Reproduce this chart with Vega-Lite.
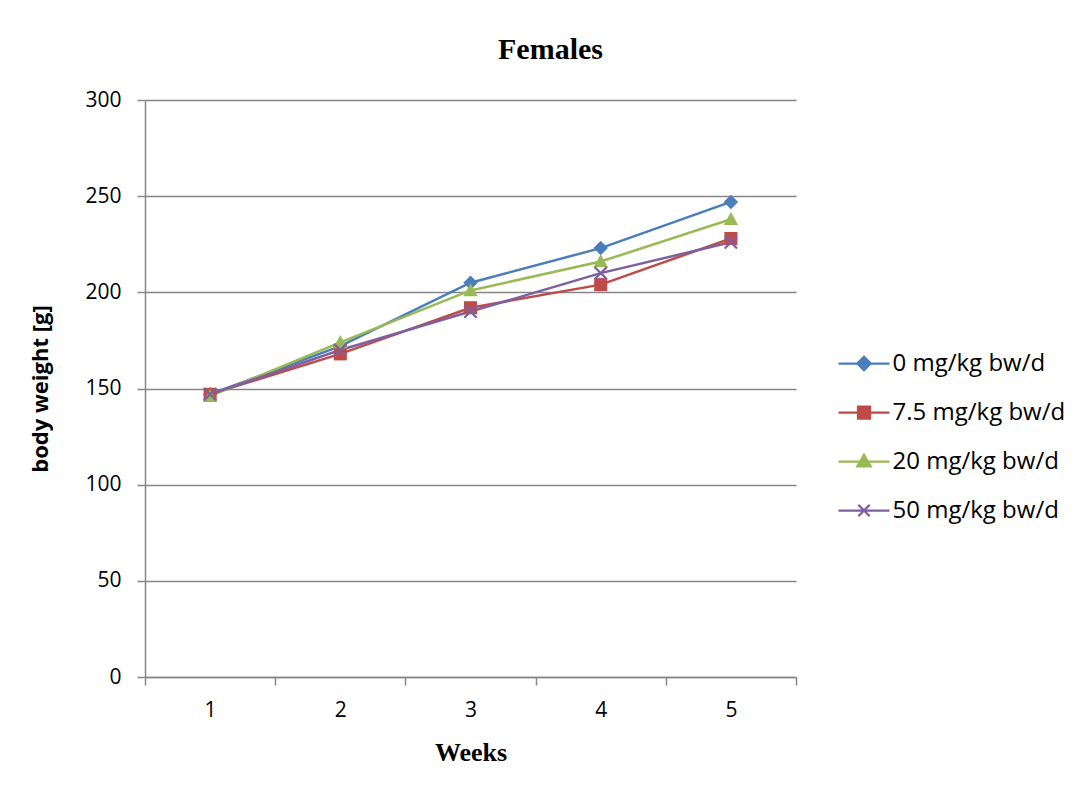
{
  "$schema": "https://vega.github.io/schema/vega-lite/v6.json",
  "width": 651,
  "height": 577,
  "autosize": "none",
  "padding": {"left": 145, "top": 100, "right": 292, "bottom": 118},
  "background": "white",
  "title": {
    "text": "Females",
    "font": "Liberation Serif",
    "fontSize": 30,
    "fontWeight": "bold",
    "color": "black",
    "anchor": "middle",
    "dx": 80,
    "offset": 0,
    "baseline": "alphabetic"
  },
  "data": {
    "values": [
      {"week": "1", "dose": "0 mg/kg bw/d", "weight": 147},
      {"week": "2", "dose": "0 mg/kg bw/d", "weight": 172},
      {"week": "3", "dose": "0 mg/kg bw/d", "weight": 205},
      {"week": "4", "dose": "0 mg/kg bw/d", "weight": 223},
      {"week": "5", "dose": "0 mg/kg bw/d", "weight": 247},
      {"week": "1", "dose": "7.5 mg/kg bw/d", "weight": 147},
      {"week": "2", "dose": "7.5 mg/kg bw/d", "weight": 168},
      {"week": "3", "dose": "7.5 mg/kg bw/d", "weight": 192},
      {"week": "4", "dose": "7.5 mg/kg bw/d", "weight": 204},
      {"week": "5", "dose": "7.5 mg/kg bw/d", "weight": 228},
      {"week": "1", "dose": "20 mg/kg bw/d", "weight": 146},
      {"week": "2", "dose": "20 mg/kg bw/d", "weight": 174},
      {"week": "3", "dose": "20 mg/kg bw/d", "weight": 201},
      {"week": "4", "dose": "20 mg/kg bw/d", "weight": 216},
      {"week": "5", "dose": "20 mg/kg bw/d", "weight": 238},
      {"week": "1", "dose": "50 mg/kg bw/d", "weight": 147},
      {"week": "2", "dose": "50 mg/kg bw/d", "weight": 170},
      {"week": "3", "dose": "50 mg/kg bw/d", "weight": 190},
      {"week": "4", "dose": "50 mg/kg bw/d", "weight": 210},
      {"week": "5", "dose": "50 mg/kg bw/d", "weight": 226}
    ]
  },
  "encoding": {
    "x": {
      "field": "week",
      "type": "ordinal",
      "scale": {"type": "band", "paddingInner": 0, "paddingOuter": 0},
      "axis": {
        "title": "Weeks",
        "titleFont": "Liberation Serif",
        "titleFontSize": 26,
        "titleFontWeight": "bold",
        "titleColor": "black",
        "titleX": 325.5,
        "titleY": 75,
        "titleBaseline": "middle",
        "titleAlign": "center",
        "labelAngle": 0,
        "labelFont": "Open Sans",
        "labelFontSize": 21,
        "labelColor": "black",
        "labelPadding": 14,
        "tickBand": "extent",
        "tickSize": 8,
        "tickColor": "#868686",
        "tickWidth": 1.5,
        "domainColor": "#868686",
        "domainWidth": 1.5,
        "grid": false
      }
    },
    "y": {
      "field": "weight",
      "type": "quantitative",
      "scale": {"domain": [0, 300], "nice": false},
      "axis": {
        "title": "body weight [g]",
        "titleFont": "Open Sans",
        "titleFontSize": 22,
        "titleFontWeight": "bold",
        "titleColor": "black",
        "titleAngle": 270,
        "titleX": -105,
        "titleY": 288.5,
        "titleAlign": "center",
        "titleBaseline": "middle",
        "values": [0, 50, 100, 150, 200, 250, 300],
        "labelFont": "Open Sans",
        "labelFontSize": 21,
        "labelColor": "black",
        "labelPadding": 16,
        "tickSize": 8,
        "tickColor": "#868686",
        "tickWidth": 1.5,
        "domainColor": "#868686",
        "domainWidth": 1.5,
        "grid": true,
        "gridColor": "#868686",
        "gridWidth": 1.5
      }
    }
  },
  "layer": [
    {
      "mark": {"type": "line", "strokeWidth": 2.5},
      "encoding": {
        "color": {
          "field": "dose",
          "type": "nominal",
          "sort": ["0 mg/kg bw/d", "7.5 mg/kg bw/d", "20 mg/kg bw/d", "50 mg/kg bw/d"],
          "scale": {
            "domain": ["0 mg/kg bw/d", "7.5 mg/kg bw/d", "20 mg/kg bw/d", "50 mg/kg bw/d"],
            "range": ["#4A7EBB", "#BE4B48", "#98B954", "#7D60A0"]
          },
          "legend": {
            "title": null,
            "orient": "none",
            "legendX": 702.5,
            "legendY": 247,
            "padding": 0,
            "symbolSize": 900,
            "symbolStrokeWidth": 2.25,
            "rowPadding": 20,
            "labelOffset": 12,
            "labelFont": "Open Sans",
            "labelFontSize": 24,
            "labelColor": "black",
            "labelLimit": 400,
            "encode": {
              "symbols": {
                "update": {
                  "shape": {
                    "signal": "datum.value === '0 mg/kg bw/d' ? 'M-1.7,0L1.7,0M0,-0.45L0.45,0L0,0.45L-0.45,0Z' : datum.value === '7.5 mg/kg bw/d' ? 'M-1.7,0L1.7,0M-0.4,-0.4L0.4,-0.4L0.4,0.4L-0.4,0.4Z' : datum.value === '20 mg/kg bw/d' ? 'M-1.7,0L1.7,0M0,-0.45L0.45,0.32L-0.45,0.32Z' : 'M-1.7,0L1.7,0M-0.38,-0.38L0.38,0.38M-0.38,0.38L0.38,-0.38'"
                  },
                  "fill": {"signal": "scale('color', datum.value)"},
                  "stroke": {"signal": "scale('color', datum.value)"},
                  "strokeWidth": {"value": 2.25}
                }
              }
            }
          }
        }
      }
    },
    {
      "transform": [{"filter": "datum.dose === '0 mg/kg bw/d'"}],
      "mark": {"type": "point", "filled": true, "opacity": 1, "shape": "M0,-1L1,0L0,1L-1,0Z", "size": 210},
      "encoding": {
        "fill": {
          "field": "dose",
          "type": "nominal",
          "scale": {
            "domain": ["0 mg/kg bw/d", "7.5 mg/kg bw/d", "20 mg/kg bw/d", "50 mg/kg bw/d"],
            "range": ["#4A7EBB", "#BE4B48", "#98B954", "#7D60A0"]
          },
          "legend": null
        }
      }
    },
    {
      "transform": [{"filter": "datum.dose === '7.5 mg/kg bw/d'"}],
      "mark": {"type": "point", "filled": true, "opacity": 1, "shape": "M-0.9,-0.9L0.9,-0.9L0.9,0.9L-0.9,0.9Z", "size": 210},
      "encoding": {
        "fill": {"field": "dose", "type": "nominal", "legend": null}
      }
    },
    {
      "transform": [{"filter": "datum.dose === '20 mg/kg bw/d'"}],
      "mark": {"type": "point", "filled": true, "opacity": 1, "shape": "M0,-1L1,0.8L-1,0.8Z", "size": 210},
      "encoding": {
        "fill": {"field": "dose", "type": "nominal", "legend": null}
      }
    },
    {
      "transform": [{"filter": "datum.dose === '50 mg/kg bw/d'"}],
      "mark": {"type": "point", "filled": false, "opacity": 1, "strokeWidth": 2.25, "shape": "M-0.85,-0.85L0.85,0.85M-0.85,0.85L0.85,-0.85", "size": 210},
      "encoding": {
        "stroke": {
          "field": "dose",
          "type": "nominal",
          "scale": {
            "domain": ["0 mg/kg bw/d", "7.5 mg/kg bw/d", "20 mg/kg bw/d", "50 mg/kg bw/d"],
            "range": ["#4A7EBB", "#BE4B48", "#98B954", "#7D60A0"]
          },
          "legend": null
        }
      }
    }
  ],
  "config": {
    "view": {"stroke": null}
  }
}
